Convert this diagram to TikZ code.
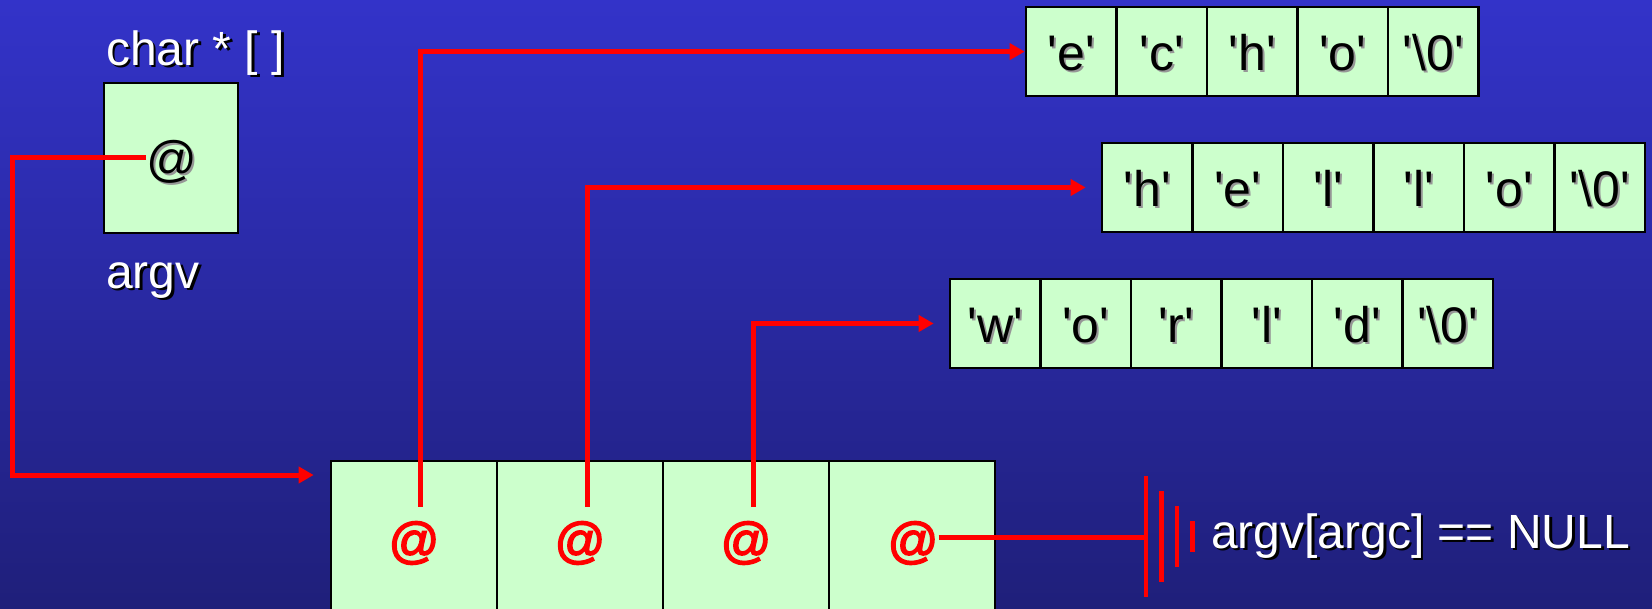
\documentclass[tikz,border=0pt]{standalone}
\usepackage{fontspec}
\newfontfamily\arialf{Liberation Sans}[Ligatures=TeXOff]
\newfontfamily\arialbf{Liberation Sans}[Ligatures=TeXOff, FakeBold=3]
\usetikzlibrary{arrows.meta,calc}

\definecolor{bgtop}{RGB}{51,51,201}
\definecolor{bgbot}{RGB}{31,31,122}
\definecolor{cellgreen}{RGB}{204,255,204}
\definecolor{ptrred}{RGB}{255,0,0}
\definecolor{shadowgray}{RGB}{150,150,150}

% text with a drop shadow: #1 text, #2 shadow colour, #3 offset
\newcommand\shadowed[3]{\leavevmode\rlap{\kern#3\raisebox{-#3}{\textcolor{#2}{#1}}}#1}
\newcommand\blk[1]{\shadowed{#1}{shadowgray}{2pt}}
\newcommand\wht[1]{\shadowed{#1}{black}{2.5pt}}

\tikzset{
  bigfont/.style={font=\arialf\fontsize{48}{56}\selectfont},
  cellfont/.style={font=\arialf\fontsize{50}{58}\selectfont},
  cell/.style={draw=black, line width=2.6pt, fill=cellgreen,
    minimum width=90.5pt, minimum height=89pt, inner sep=0pt,
    text height=38pt, text depth=0pt, cellfont},
  argcell/.style={draw=black, line width=2.6pt, fill=cellgreen,
    minimum width=166pt, minimum height=200pt, inner sep=0pt},
  ptrbox/.style={draw=black, line width=2.6pt, fill=cellgreen,
    minimum width=134pt, minimum height=150pt, inner sep=0pt},
  redat/.style={text=ptrred, inner sep=0pt,
    font=\arialbf\fontsize{50}{58}\selectfont},
  label/.style={text=white, inner sep=0pt, anchor=base west, bigfont},
  redline/.style={draw=ptrred, line width=5pt},
  ptr/.style={redline, -{Triangle[length=15pt,width=16pt]}},
}

\begin{document}
\begin{tikzpicture}[x=1pt,y=-1pt]
\useasboundingbox (0,0) rectangle (1652,608);
\shade[top color=bgtop, bottom color=bgbot] (0,0) rectangle (1652,608);

% the argv variable
\node[label] (typelbl) at (106,65) {\wht{char * [ ]}};
\node[ptrbox] (argvbox) at (171,158) {};
\node[inner sep=0pt, cellfont] (argvat) at (171.7,163) {\blk{@}};
\node[label] (argvlbl) at (106,288) {\wht{argv}};

% the pointer array
\foreach \i in {0,...,3} {
  \node[argcell] (arg\i) at ({414+166*\i},561) {};
}
\node[redat] (at0) at (414,543) {@};
\node[redat] (at1) at (580,543) {@};
\node[redat] (at2) at (746,543) {@};
\node[redat] (at3) at (913,543) {@};

% the strings
\foreach \t [count=\i from 0] in {e,c,h,o,\textbackslash0} {
  \node[cell] (echo\i) at ({1071.25+90.5*\i},51.6) {\blk{'\t'}};
}
\foreach \t [count=\i from 0] in {h,e,l,l,o,\textbackslash0} {
  \node[cell] (hello\i) at ({1147.25+90.5*\i},187.5) {\blk{'\t'}};
}
\foreach \t [count=\i from 0] in {w,o,r,l,d,\textbackslash0} {
  \node[cell] (world\i) at ({995.25+90.5*\i},323.5) {\blk{'\t'}};
}

% pointers
\coordinate (argvcorner) at (12,475);
\draw[ptr, shorten >=16pt] ([yshift=6pt]argvat.west) -| (argvcorner)
  -- (arg0.west |- argvcorner);
\draw[ptr] ([xshift=6.5pt,yshift=14.5pt]at0.north) |- (echo0.west);
\draw[ptr, shorten >=15pt] ([xshift=7pt,yshift=14.5pt]at1.north) |- (hello0.west);
\draw[ptr, shorten >=15pt] ([xshift=7.5pt,yshift=14.5pt]at2.north) |- (world0.west);

% terminating NULL pointer
\coordinate (gnd) at (1146,537);
\draw[redline] ([yshift=6pt]at3.east) -- (gnd);
\draw[redline, line width=4.6pt] ($(gnd)+(0,-61)$) -- ($(gnd)+(0,60)$);
\draw[redline, line width=4.6pt] ($(gnd)+(15.5,-46)$) -- ($(gnd)+(15.5,45)$);
\draw[redline, line width=4.6pt] ($(gnd)+(31,-31)$) -- ($(gnd)+(31,30)$);
\draw[redline, line width=4.6pt] ($(gnd)+(46.5,-16)$) -- ($(gnd)+(46.5,15)$);
\node[label] (nulllbl) at (1211,548) {\wht{argv[argc] == NULL}};
\end{tikzpicture}
\end{document}
